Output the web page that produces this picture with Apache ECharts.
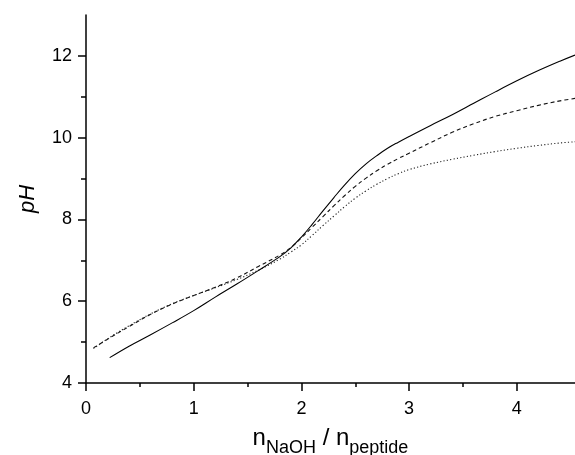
<!DOCTYPE html>
<html>
<head>
<meta charset="utf-8">
<script src="https://cdn.jsdelivr.net/npm/echarts@6/dist/echarts.min.js"></script>
<style>html,body{margin:0;padding:0;background:#fff;overflow:hidden}#c{width:575px;height:455px}</style>
</head>
<body>
<div id="c"></div>
<script>
// Solid curve
var solidX = [0.22,0.4,0.6,0.8,1.0,1.2,1.4,1.6,1.7,1.8,1.9,2.0,2.1,2.2,2.3,2.4,2.5,2.6,2.7,2.8,2.9,3.0,3.2,3.4,3.6,3.8,4.0,4.2,4.4,4.54];
var solidY = [4.62,4.90,5.18,5.47,5.77,6.10,6.42,6.75,6.92,7.09,7.30,7.57,7.88,8.21,8.53,8.84,9.12,9.36,9.56,9.74,9.89,10.03,10.30,10.56,10.84,11.12,11.39,11.64,11.87,12.02];
// Dashed curve
var dashX = [0.07,0.2,0.4,0.6,0.8,1.0,1.2,1.4,1.6,1.8,1.9,2.0,2.1,2.2,2.3,2.4,2.5,2.6,2.7,2.8,2.9,3.0,3.2,3.4,3.6,3.8,4.0,4.2,4.4,4.54];
var dashY = [4.86,5.07,5.38,5.68,5.93,6.14,6.34,6.57,6.85,7.13,7.31,7.55,7.81,8.07,8.33,8.58,8.81,9.01,9.19,9.35,9.49,9.62,9.88,10.13,10.34,10.52,10.66,10.79,10.90,10.96];
// Dotted curve
var dotX = [0.07,0.2,0.4,0.6,0.8,1.0,1.2,1.4,1.6,1.8,1.9,2.0,2.1,2.2,2.3,2.4,2.5,2.6,2.7,2.8,2.9,3.0,3.2,3.4,3.6,3.8,4.0,4.2,4.4,4.54];
var dotY = [4.84,5.08,5.40,5.69,5.94,6.14,6.33,6.53,6.76,7.03,7.20,7.38,7.61,7.85,8.08,8.31,8.52,8.70,8.86,9.00,9.12,9.22,9.36,9.47,9.57,9.66,9.74,9.81,9.87,9.90];

var xMajor = [0,1,2,3,4];
var xMinor = [0.5,1.5,2.5,3.5];
var yMajor = [4,6,8,10,12];
var yMinor = [5,7,9,11];

function pairs(xs, ys){ return xs.map(function(x,i){return [x, ys[i]];}); }

var FONT = 'Liberation Sans, Arial, Helvetica, sans-serif';
var chart = echarts.init(document.getElementById('c'), null, {renderer:'canvas'});
var axLine = {show:true, lineStyle:{color:'#000', width:1.5}};
chart.setOption({
  animation:false,
  backgroundColor:'#fff',
  grid:{left:86, right:0, top:15, bottom:72, containLabel:false, outerBoundsMode:'none'},
  xAxis:[{
    type:'value', min:0, max:4.54,
    axisLine:axLine,
    axisTick:{show:true, inside:false, length:8, lineStyle:{color:'#000', width:1.5}, customValues:xMajor},
    axisLabel:{color:'#000', fontSize:18, fontFamily:FONT, margin:17, customValues:xMajor},
    splitLine:{show:false},
    name:'{n|n}{sub|NaOH}{n| / n}{sub|peptide}',
    nameLocation:'middle', nameGap:43,
    nameTextStyle:{rich:{
      n:{fontSize:24, lineHeight:24, fontFamily:FONT, color:'#000', verticalAlign:'top'},
      sub:{fontSize:18, lineHeight:18, fontFamily:FONT, color:'#000', padding:[13,0,0,0], verticalAlign:'top'}
    }}
  },{
    type:'value', min:0, max:4.54, position:'bottom',
    axisLine:{show:false},
    axisTick:{show:true, length:4, lineStyle:{color:'#000', width:1.5}, customValues:xMinor},
    axisLabel:{show:false}, splitLine:{show:false}
  }],
  yAxis:[{
    type:'value', min:4, max:13,
    axisLine:axLine,
    axisTick:{show:true, inside:false, length:8, lineStyle:{color:'#000', width:1.5}, customValues:yMajor},
    axisLabel:{color:'#000', fontSize:18, fontFamily:FONT, margin:14, customValues:yMajor},
    splitLine:{show:false},
    name:'pH', nameLocation:'middle', nameGap:47, nameRotate:90,
    nameTextStyle:{fontSize:22, fontStyle:'italic', fontFamily:FONT, color:'#000'}
  },{
    type:'value', min:4, max:13, position:'left',
    axisLine:{show:false},
    axisTick:{show:true, length:5, lineStyle:{color:'#000', width:1.5}, customValues:yMinor},
    axisLabel:{show:false}, splitLine:{show:false}
  }],
  series:[
    {type:'line', data:pairs(solidX, solidY), smooth:0.4, showSymbol:false, xAxisIndex:0, yAxisIndex:0,
     lineStyle:{color:'#000', width:1.1, type:'solid'}},
    {type:'line', data:pairs(dashX, dashY), smooth:0.4, showSymbol:false, xAxisIndex:0, yAxisIndex:0,
     lineStyle:{color:'#111', width:1.1, type:[4,3]}},
    {type:'line', data:pairs(dotX, dotY), smooth:0.4, showSymbol:false, xAxisIndex:0, yAxisIndex:0,
     lineStyle:{color:'#222', width:1.1, type:[1.2,2.2]}}
  ]
});
</script>
</body>
</html>
